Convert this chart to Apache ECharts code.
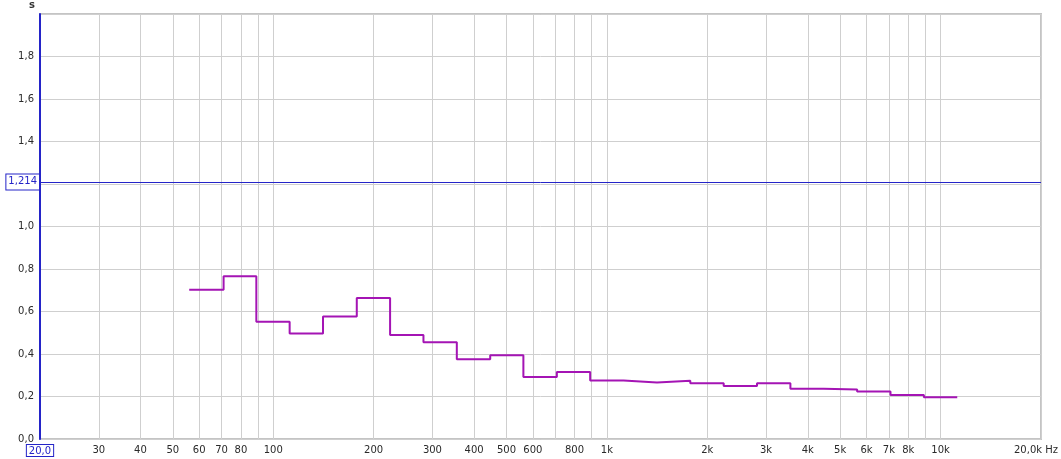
<!DOCTYPE html>
<html><head><meta charset="utf-8">
<script src="https://cdn.jsdelivr.net/npm/echarts@6/dist/echarts.min.js"></script>
<style>html,body{margin:0;padding:0;background:#fff}#c{width:1061px;height:459px}</style>
</head><body><div id="c"></div>
<script>
// 1/3-octave band edges (Hz) and RT values (s)
const bandEdges = [56, 71, 89, 112, 141, 178, 224, 282, 355, 447, 562, 708, 891, 1122, 1413, 1778, 2239, 2818, 3548, 4467, 5623, 7079, 8913, 11220];
const rtValues  = [0.702, 0.766, 0.552, 0.497, 0.576, 0.664, 0.489, 0.455, 0.375, 0.394, 0.292, 0.315, 0.275, 0.266, 0.274, 0.262, 0.249, 0.262, 0.236, 0.233, 0.223, 0.207, 0.197];
const gridFreqs  = [20,30,40,50,60,70,80,90,100,200,300,400,500,600,700,800,900,1000,2000,3000,4000,5000,6000,7000,8000,9000,10000,20000];
const labelFreqs = [20,30,40,50,60,70,80,100,200,300,400,500,600,800,1000,2000,3000,4000,5000,6000,7000,8000,10000,20000];
const yTicks = [0,0.2,0.4,0.6,0.8,1.0,1.4,1.6,1.8];
const markerY = 1.214;

const L = Math.log10;
const pts = [];
for (let i = 0; i < rtValues.length; i++) pts.push([L(bandEdges[i]), rtValues[i]]);
pts.push([L(bandEdges[bandEdges.length-1]), rtValues[rtValues.length-1]]);

const blue = '#2424c8';
const font = 'DejaVu Sans';
function fmtF(v){
  const f = Math.round(Math.pow(10, v));
  if (f === 20) return '{b|20,0}';
  if (f === 20000) return '{e|20,0k Hz}';
  if (f >= 1000) return (f/1000) + 'k';
  return String(f);
}
const chart = echarts.init(document.getElementById('c'), null, {renderer:'canvas'});
chart.setOption({
  animation:false,
  backgroundColor:'#fff',
  grid:{left:40, top:14, right:18, bottom:20, show:true, borderColor:'#c4c4c4', borderWidth:2, containLabel:false},
  graphic:[{type:'text', left:29, top:0, style:{text:'s', font:'bold 10px "DejaVu Sans"', fill:'#333'}}],
  xAxis:{
    type:'value', min:L(20), max:L(20000),
    axisLine:{show:false},
    axisTick:{show:false, customValues:gridFreqs.map(L)},
    splitLine:{show:true, lineStyle:{color:'#cfcfcf', width:1}},
    axisLabel:{customValues:labelFreqs.map(L), formatter:fmtF, color:'#2a2a2a', fontFamily:font, fontSize:10, margin:6,
      rich:{b:{color:blue, borderColor:blue, borderWidth:1, padding:[1,2,0,2], fontFamily:font, fontSize:10, backgroundColor:'#fff'},
            e:{color:'#2a2a2a', fontFamily:font, fontSize:10, padding:[0,10,0,0]}}}
  },
  yAxis:{
    type:'value', min:0, max:2, interval:0.2,
    axisLine:{show:true, lineStyle:{color:blue, width:2}},
    axisTick:{show:false},
    splitLine:{show:true, lineStyle:{color:'#cfcfcf', width:1}},
    axisLabel:{color:'#2a2a2a', fontFamily:font, fontSize:10, margin:6,
      formatter:function(v){
        const r = Math.round(v*10)/10;
        if (yTicks.indexOf(r) < 0) return '';
        return r.toFixed(1).replace('.', ',');
      }}
  },
  series:[{
    type:'line', step:'end', data:pts, symbol:'none',
    lineStyle:{color:'#a414b4', width:2},
    markLine:{
      silent:true, symbol:['none','none'],
      lineStyle:{color:blue, width:1, type:'solid'},
      label:{position:'start', distance:1, formatter:'1,214', color:blue, fontFamily:font, fontSize:10,
        borderColor:blue, borderWidth:1, padding:[5,2,0,2], backgroundColor:'#fff'},
      data:[{yAxis:markerY}]
    }
  }]
});
</script></body></html>
